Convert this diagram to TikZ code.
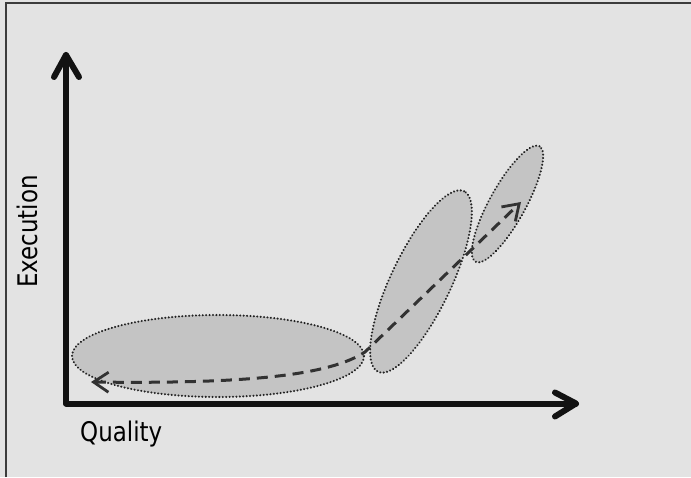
\documentclass[tikz,border=0pt]{standalone}
\usepackage{fontspec}
\newfontfamily\labelfont{DejaVu Sans}
\usetikzlibrary{shapes.geometric,arrows.meta,calc}
\definecolor{bgcol}{RGB}{227,227,227}
\definecolor{blobfill}{RGB}{196,196,196}
\definecolor{dotcol}{RGB}{35,35,35}
\definecolor{axiscol}{RGB}{18,18,18}
\definecolor{dashcol}{RGB}{50,50,50}
\definecolor{framecol}{RGB}{60,60,60}
\tikzset{
  blob/.style={ellipse, draw=dotcol, fill=blobfill, line width=2.3pt,
    dash pattern=on 0.01pt off 3.4pt, line cap=round, inner sep=0pt},
  axisline/.style={draw=axiscol, line width=6pt, line cap=round, line join=round},
  pathline/.style={draw=dashcol, line width=3pt, dash pattern=on 11pt off 7pt,
    {Straight Barb[length=15pt,width=20pt,line width=2.8pt]}-{Straight Barb[length=15pt,width=20pt,line width=2.8pt]}},
  axislabel/.style={inner sep=0pt, font=\labelfont\fontsize{27}{32}\selectfont, text=black}
}
\begin{document}
\begin{tikzpicture}[x=1pt,y=1pt]
\useasboundingbox (0,0) rectangle (691,477);
\fill[bgcol] (0,0) rectangle (691,477);
% frame
\coordinate (fl) at (6,0);
\coordinate (fc) at (6,474);
\coordinate (fr) at (691,474);
\draw[framecol, line width=1.8pt] (fl) -- (fc) -- (fr);
% ellipses
\node[blob, minimum width=292pt, minimum height=82pt] (e1) at (218,121) {};
\node[blob, minimum width=200pt, minimum height=60pt, rotate=64.5] (e2) at (421,195.5) {};
\node[blob, minimum width=132pt, minimum height=36pt, rotate=61] (e3) at (507.5,273) {};
% axes
\coordinate (O) at (66,73.5);
\coordinate (ytip) at (66,422);
\coordinate (xtip) at (576,73.5);
\draw[axisline] (ytip) -- (O) -- (xtip);
\draw[axisline] ($(ytip)+(-12,-22)$) -- (ytip) -- ($(ytip)+(13,-22)$);
\draw[axisline] ($(xtip)+(-21,11)$) -- (xtip) -- ($(xtip)+(-21,-13)$);
% labels
\node[axislabel, anchor=base west] (qual) at (80,36) {\scalebox{0.85}[1]{Quality}};
\node[axislabel, anchor=base west, rotate=90] (exec) at (37,189) {\scalebox{0.85}[1]{Execution}};
% dashed path
\coordinate (ps) at (91,95);
\coordinate (pj) at (365,125);
\coordinate (pe) at (521,275);
\draw[pathline] (ps) .. controls (250,93) and (330,102) .. (pj) -- (pe);
\end{tikzpicture}
\end{document}
